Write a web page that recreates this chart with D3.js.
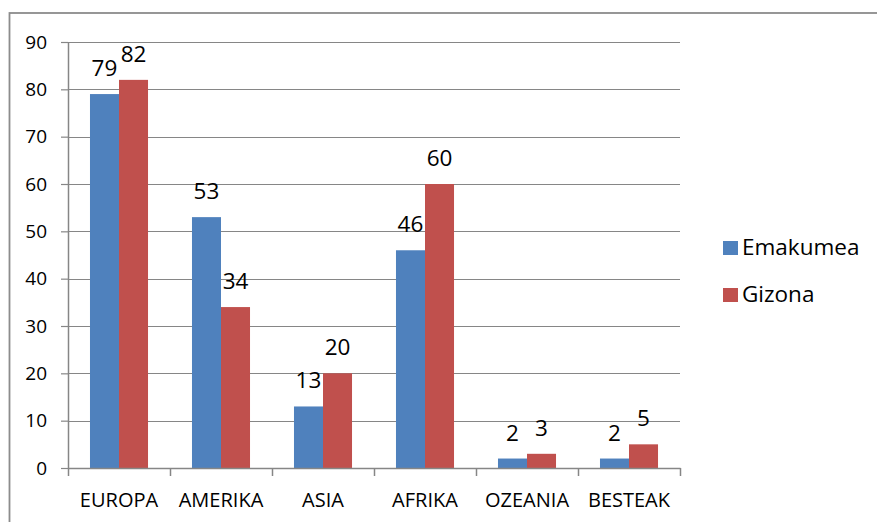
<!DOCTYPE html>
<html>
<head>
<meta charset="utf-8">
<script src="https://cdn.jsdelivr.net/npm/d3@7"></script>
<style>
  html, body { margin: 0; padding: 0; background: #fff; }
  svg { display: block; }
</style>
</head>
<body>
<svg id="chart"></svg>
<script>
// chart data
const categories = ["EUROPA", "AMERIKA", "ASIA", "AFRIKA", "OZEANIA", "BESTEAK"];
const seriesNames = ["Emakumea", "Gizona"];
const emakumea = [79, 53, 13, 46, 2, 2];
const gizona = [82, 34, 20, 60, 3, 5];
const yTicks = [0, 10, 20, 30, 40, 50, 60, 70, 80, 90];
const seriesColors = ["#4F81BD", "#C0504D"];

// dimensions
const width = 877;
const height = 522;
const plotLeft = 68;
const plotRight = 680;
const plotTop = 42;
const plotBottom = 468;

const font = "'Open Sans', Lato, sans-serif";
const gridColor = "#868686";

const svg = d3.select("#chart")
    .attr("width", width)
    .attr("height", height);

// outer chart border (only top and left are visible in the picture)
svg.append("rect")
    .attr("x", 9.5).attr("y", 13)
    .attr("width", width + 20).attr("height", height + 20)
    .attr("fill", "none")
    .attr("stroke", "#8c8c8c")
    .attr("stroke-width", 1.8);

// scales
const x = d3.scaleBand()
    .domain(categories)
    .range([plotLeft, plotRight])
    .paddingInner(0.431)
    .paddingOuter(0.2155);

const x1 = d3.scaleBand()
    .domain(seriesNames)
    .range([0, x.bandwidth()]);

const y = d3.scaleLinear()
    .domain([0, 90])
    .range([plotBottom, plotTop]);

// horizontal grid lines
svg.append("g")
    .selectAll("line")
    .data(yTicks.filter(d => d > 0))
    .join("line")
    .attr("x1", plotLeft).attr("x2", plotRight)
    .attr("y1", d => Math.round(y(d)) + 0.5)
    .attr("y2", d => Math.round(y(d)) + 0.5)
    .attr("stroke", gridColor)
    .attr("stroke-width", 1.2);

// y axis
const yAxis = svg.append("g")
    .attr("transform", `translate(${plotLeft},0)`)
    .call(d3.axisLeft(y).tickValues(yTicks).tickSize(7).tickSizeOuter(0).tickPadding(14));
yAxis.select(".domain").attr("stroke", gridColor).attr("stroke-width", 1.5);
yAxis.selectAll(".tick line").attr("stroke", gridColor).attr("stroke-width", 1.2);
yAxis.selectAll("text")
    .attr("font-family", font)
    .attr("font-size", 19)
    .attr("fill", "#000");

// bars
const groups = svg.append("g")
    .selectAll("g")
    .data(categories)
    .join("g")
    .attr("transform", d => `translate(${x(d)},0)`);

const barData = (d, i) => [
  { key: seriesNames[0], value: emakumea[i], color: seriesColors[0] },
  { key: seriesNames[1], value: gizona[i], color: seriesColors[1] }
];

groups.selectAll("rect")
    .data(barData)
    .join("rect")
    .attr("x", d => x1(d.key))
    .attr("y", d => y(d.value))
    .attr("width", x1.bandwidth())
    .attr("height", d => y(0) - y(d.value))
    .attr("fill", d => d.color);

// value labels
groups.selectAll("text")
    .data(barData)
    .join("text")
    .attr("x", d => x1(d.key) + x1.bandwidth() / 2)
    .attr("y", d => y(d.value) - 18)
    .attr("text-anchor", "middle")
    .attr("font-family", font)
    .attr("font-size", 22.5)
    .attr("fill", "#000")
    .text(d => d.value);

// x axis: category labels
const xAxis = svg.append("g")
    .attr("transform", `translate(0,${plotBottom})`)
    .call(d3.axisBottom(x).tickSize(0).tickSizeOuter(0));
xAxis.select(".domain").remove();
xAxis.selectAll("text")
    .attr("y", 39)
    .attr("dy", 0)
    .attr("font-family", font)
    .attr("font-size", 20)
    .attr("fill", "#000");

// x axis line with tick marks on category boundaries
const xb = d3.scaleLinear().domain([0, categories.length]).range([plotLeft, plotRight]);
const xLine = svg.append("g")
    .attr("transform", `translate(0,${plotBottom})`)
    .call(d3.axisBottom(xb).ticks(categories.length).tickSize(8).tickSizeOuter(0).tickFormat(""));
xLine.select(".domain").attr("stroke", gridColor).attr("stroke-width", 1.5);
xLine.selectAll(".tick line").attr("stroke", gridColor).attr("stroke-width", 1.5);

// legend
const legend = svg.append("g")
    .selectAll("g")
    .data(seriesNames)
    .join("g")
    .attr("transform", (d, i) => `translate(723,${241 + i * 47})`);

legend.append("rect")
    .attr("width", 15).attr("height", 14)
    .attr("fill", (d, i) => seriesColors[i]);

legend.append("text")
    .attr("x", 19).attr("y", 14)
    .attr("font-family", font)
    .attr("font-size", 22.5)
    .attr("fill", "#000")
    .text(d => d);
</script>
</body>
</html>
